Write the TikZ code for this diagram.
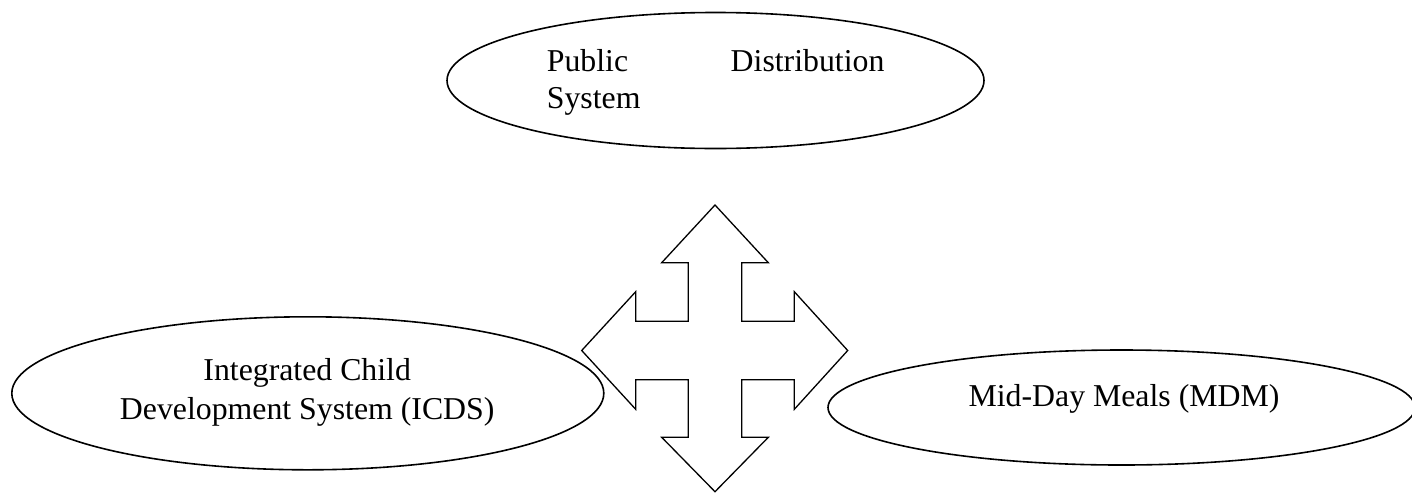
\documentclass[tikz,border=0pt]{standalone}
\usepackage{fontspec}
\setmainfont{Liberation Serif}
\usetikzlibrary{shapes.geometric}
\begin{document}
\begin{tikzpicture}[x=1pt,y=-1pt,
  oval/.style={draw=black, line width=1.6pt, ellipse, inner sep=0pt},
  lbl/.style={font=\fontsize{31.8}{37}\selectfont, inner sep=0pt, anchor=base},
  cross/.style={draw=black, line width=1.3pt, line join=miter, fill=white}]
\useasboundingbox (0,0) rectangle (1412,493);
% ellipses
\node[oval, minimum width=537pt, minimum height=136pt] (pds) at (715.5,80.5) {};
\node[oval, minimum width=592pt, minimum height=153pt] (icds) at (307.8,393.3) {};
\node[oval, minimum width=587pt, minimum height=115pt] (mdm) at (1121.5,407.5) {};
% texts
\node[lbl, anchor=base west, text width=337.5pt, align=left] (pdst) at (546.7,71.7) {Public\hfill Distribution\\System};
\node[lbl, align=center, font=\fontsize{31.8}{39}\selectfont] (icdst) at (307.2,419.3) {Integrated Child\\Development System (ICDS)};
\node[lbl] (mdmt) at (1124,406) {Mid-Day Meals (MDM)};
% four-way arrow
\draw[cross] (715,205) -- (768.3,262.7) -- (741.7,262.7) -- (741.7,321.3)
  -- (794.3,321.3) -- (794.3,291.7) -- (847.7,350.5) -- (794.3,409.3)
  -- (794.3,379.7) -- (741.7,379.7) -- (741.7,437.3) -- (768.3,437.3)
  -- (715,491.7) -- (661.7,437.3) -- (688.3,437.3) -- (688.3,379.7)
  -- (635.7,379.7) -- (635.7,409.3) -- (581.7,350.5) -- (635.7,291.7)
  -- (635.7,321.3) -- (688.3,321.3) -- (688.3,262.7) -- (661.7,262.7) -- cycle;
\end{tikzpicture}
\end{document}
